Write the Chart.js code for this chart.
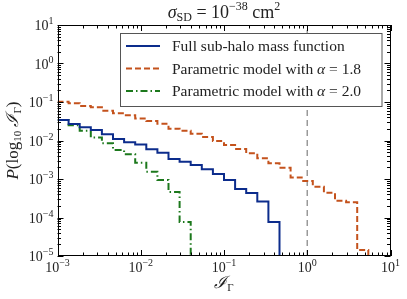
<!DOCTYPE html>
<html>
<head>
<meta charset="utf-8">
<script src="https://cdn.jsdelivr.net/npm/chart.js@4.4.0/dist/chart.umd.min.js"></script>
<style>
  body { margin: 0; background: #fff; }
  #wrap { width: 407px; height: 299px; position: relative; }
</style>
</head>
<body>
<div id="wrap"><canvas id="hist"></canvas></div>
<script>
// 30 log-spaced bins between 1e-3 and 1e1
const nBins = 30;
const binEdges = [];
for (let k = 0; k <= nBins; k++) binEdges.push(Math.pow(10, -3 + 4 * k / nBins));

// P(log10 I) per bin (empty bins after the last value)
const fullSHMF = [0.034, 0.0268, 0.022, 0.0187, 0.0145, 0.0109, 0.009, 0.0079, 0.0059, 0.0048,
                  0.0033, 0.0028, 0.0023, 0.00179, 0.00135, 0.00094, 0.00055, 0.00043, 0.00026, 0.000076];
const alpha18 = [0.102, 0.0925, 0.0787, 0.0728, 0.059, 0.0508, 0.045, 0.0373, 0.032, 0.0273,
                 0.0203, 0.018, 0.015, 0.0123, 0.0097, 0.0076, 0.006, 0.00465, 0.00345, 0.00256,
                 0.00197, 0.0011, 0.00089, 0.00063, 0.00044, 0.000273, 0.000248, 0.0000143];
const alpha20 = [0.034, 0.025, 0.018, 0.012, 0.0085, 0.0057, 0.0044, 0.00265, 0.00155, 0.00094,
                 0.00046, 0.000076];

const seriesLabels = ['Full sub-halo mass function', 'Parametric model with ', 'Parametric model with '];
const alphaValues = [null, '1.8', '2.0'];

const xTicks = [1e-3, 1e-2, 1e-1, 1e0, 1e1];
const yTicks = [1e-5, 1e-4, 1e-3, 1e-2, 1e-1, 1e0, 1e1];
const xMin = 1e-3, xMax = 10, yMin = 1e-5, yMax = 10;

const blue = '#0c2c8c';
const orange = '#c4521c';
const green = '#1c781c';

// one point per left bin edge, plus a closing drop to the axis floor
function stepPoints(vals) {
  const pts = vals.map((v, i) => ({ x: binEdges[i], y: v }));
  pts.push({ x: binEdges[vals.length], y: vals[vals.length - 1] });
  pts.push({ x: binEdges[vals.length], y: yMin });
  return pts;
}

const serif = '"Liberation Serif", "DejaVu Serif", serif';

// draw a run of text pieces: {t, size, dy, italic}
function richWidth(ctx, parts) {
  let w = 0;
  parts.forEach(p => {
    ctx.font = (p.italic ? 'italic ' : '') + p.size + 'px ' + serif;
    w += ctx.measureText(p.t).width;
  });
  return w;
}
function drawRich(ctx, parts, x, y, align) {
  const w = richWidth(ctx, parts);
  let cx = align === 'center' ? x - w / 2 : align === 'right' ? x - w : x;
  ctx.textAlign = 'left';
  ctx.textBaseline = 'alphabetic';
  parts.forEach(p => {
    ctx.font = (p.italic ? 'italic ' : '') + p.size + 'px ' + serif;
    ctx.fillText(p.t, cx, y + (p.dy || 0));
    cx += ctx.measureText(p.t).width;
  });
}
function pow10(exp) {
  return [{ t: '10', size: 14 }, { t: exp, size: 10, dy: -6 }];
}

const decorations = {
  id: 'decorations',
  afterDatasetsDraw(chart) {
    const ctx = chart.ctx;
    const a = chart.chartArea;
    const xs = chart.scales.x, ys = chart.scales.y;
    ctx.save();
    ctx.strokeStyle = '#000';
    ctx.fillStyle = '#222';
    ctx.lineWidth = 1;

    // frame
    ctx.strokeRect(Math.round(a.left) + 0.5, Math.round(a.top) + 0.5,
                   Math.round(a.right - a.left) - 1, Math.round(a.bottom - a.top) - 1);

    // ticks, inward on all sides
    ctx.beginPath();
    for (let e = -3; e <= 1; e++) {
      for (let m = 1; m <= 9; m++) {
        const v = m * Math.pow(10, e);
        if (v > xMax) break;
        const px = Math.round(xs.getPixelForValue(v)) + 0.5;
        const len = m === 1 ? 6 : 3.5;
        ctx.moveTo(px, a.bottom); ctx.lineTo(px, a.bottom - len);
        ctx.moveTo(px, a.top); ctx.lineTo(px, a.top + len);
      }
    }
    for (let e = -5; e <= 1; e++) {
      for (let m = 1; m <= 9; m++) {
        const v = m * Math.pow(10, e);
        if (v > yMax) break;
        const py = Math.round(ys.getPixelForValue(v)) + 0.5;
        const len = m === 1 ? 6 : 3.5;
        ctx.moveTo(a.left, py); ctx.lineTo(a.left + len, py);
        ctx.moveTo(a.right, py); ctx.lineTo(a.right - len, py);
      }
    }
    ctx.stroke();

    // tick labels
    xTicks.forEach(v => {
      const e = Math.round(Math.log10(v));
      drawRich(ctx, pow10(e < 0 ? '\u2212' + (-e) : String(e)), xs.getPixelForValue(v), a.bottom + 16, 'center');
    });
    yTicks.forEach(v => {
      const e = Math.round(Math.log10(v));
      drawRich(ctx, pow10(e < 0 ? '\u2212' + (-e) : String(e)), a.left - 4, ys.getPixelForValue(v) + 5, 'right');
    });

    // axis titles
    drawRich(ctx, [{ t: '\u2110', size: 17, italic: true }, { t: '\u0393', size: 11, dy: 3 }],
             (a.left + a.right) / 2, 288, 'center');
    ctx.save();
    ctx.translate(18, (a.top + a.bottom) / 2);
    ctx.rotate(-Math.PI / 2);
    drawRich(ctx, [{ t: 'P', size: 17, italic: true }, { t: '(log', size: 17 }, { t: '10', size: 11, dy: 3 },
                   { t: ' \u2110', size: 17, italic: true }, { t: '\u0393', size: 11, dy: 3 }, { t: ')', size: 17 }],
             0, 0, 'center');
    ctx.restore();

    // title
    drawRich(ctx, [{ t: '\u03C3', size: 18, italic: true }, { t: 'SD', size: 12, dy: 3 },
                   { t: ' = 10', size: 18 }, { t: '\u221238', size: 12, dy: -8 },
                   { t: ' cm', size: 18 }, { t: '2', size: 12, dy: -8 }],
             (a.left + a.right) / 2, 18, 'center');

    // legend
    ctx.fillStyle = '#fff';
    ctx.fillRect(120.5, 33.5, 261.5, 73);
    ctx.strokeStyle = '#555';
    ctx.strokeRect(120.5, 33.5, 261.5, 73);
    const styles = chart.data.datasets;
    const rows = [46, 68.5, 91];
    rows.forEach((ry, i) => {
      const ds = styles[i];
      ctx.beginPath();
      ctx.strokeStyle = ds.borderColor;
      ctx.lineWidth = ds.borderWidth;
      ctx.setLineDash(ds.borderDash || []);
      ctx.moveTo(126, ry); ctx.lineTo(160, ry);
      ctx.stroke();
      ctx.setLineDash([]);
      ctx.fillStyle = '#222';
      const parts = [{ t: seriesLabels[i], size: 15.5 }];
      if (alphaValues[i]) {
        parts.push({ t: '\u03B1', size: 15.5, italic: true }, { t: ' = ' + alphaValues[i], size: 15.5 });
      }
      drawRich(ctx, parts, 172, ry + 5, 'left');
    });
    ctx.restore();
  }
};

new Chart(document.getElementById('hist'), {
  type: 'line',
  data: {
    datasets: [
      { label: seriesLabels[0], data: stepPoints(fullSHMF), stepped: 'before',
        borderColor: blue, borderWidth: 2, fill: false, pointRadius: 0 },
      { label: seriesLabels[1] + 'α = ' + alphaValues[1], data: stepPoints(alpha18), stepped: 'before',
        borderColor: orange, borderWidth: 2, borderDash: [6, 3], fill: false, pointRadius: 0 },
      { label: seriesLabels[2] + 'α = ' + alphaValues[2], data: stepPoints(alpha20), stepped: 'before',
        borderColor: green, borderWidth: 2, borderDash: [7, 3, 1.5, 3], fill: false, pointRadius: 0 },
      { label: 'I = 1', data: [{ x: 1, y: yMin }, { x: 1, y: yMax }],
        borderColor: '#999', borderWidth: 1.5, borderDash: [6, 4], fill: false, pointRadius: 0 }
    ]
  },
  options: {
    responsive: true,
    maintainAspectRatio: false,
    animation: false,
    layout: { padding: { left: 57.5, right: 16.5, top: 25, bottom: 43 } },
    plugins: { legend: { display: false }, tooltip: { enabled: false } },
    scales: {
      x: { type: 'logarithmic', min: xMin, max: xMax, display: false },
      y: { type: 'logarithmic', min: yMin, max: yMax, display: false }
    }
  },
  plugins: [decorations]
});
</script>
</body>
</html>
